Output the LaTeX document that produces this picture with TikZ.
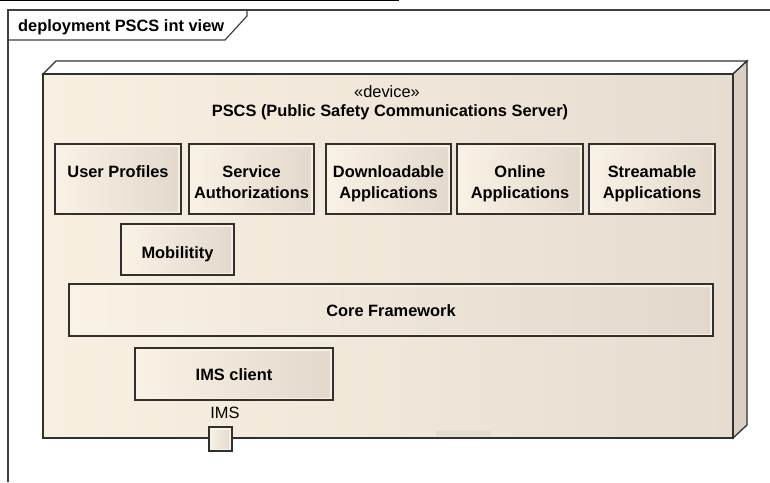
\documentclass[tikz,border=0pt]{standalone}
\usepackage{fontspec}
\setmainfont{Liberation Sans}
\definecolor{bord}{HTML}{303030}
\definecolor{frm}{HTML}{404040}
\definecolor{devL}{HTML}{FAF0E2}
\definecolor{devR}{HTML}{E6DDD0}
\definecolor{sideC}{HTML}{D9D0C3}
\definecolor{boxL}{HTML}{FBF2E6}
\definecolor{boxR}{HTML}{E2D9CC}
\definecolor{boxEdge}{HTML}{FAF1E5}
\definecolor{artif}{HTML}{E3DBCF}
\tikzset{
  comp/.style={draw=bord, line width=1.3pt, fill=boxEdge, inner sep=0pt, outer sep=0pt,
    anchor=north west,
    path picture={\shade[left color=boxL,right color=boxR]
      ([shift={(3pt,-3pt)}]path picture bounding box.north west) rectangle
      ([shift={(-3pt,3pt)}]path picture bounding box.south east);}},
  lbl/.style={font=\bfseries\fontsize{16.4}{21}\selectfont, align=center, inner sep=0pt, anchor=north},
  plain/.style={font=\fontsize{16.4}{21}\selectfont, inner sep=0pt, anchor=north},
}
\begin{document}
\begin{tikzpicture}[x=1pt,y=-1pt]
\useasboundingbox (0,0) rectangle (770,482);
% top artifact line
\draw[black, line width=1.5pt] (0,0.6) -- (399,0.6);
% frame
\draw[frm, line width=1.2pt] (8,482) -- (8,10) -- (770,10);
\draw[frm, line width=1.2pt] (8,40) -- (225,40) -- (247,16) -- (247,10);
\node[font=\bfseries\fontsize{16.4}{21}\selectfont, inner sep=0pt, anchor=north west] (title) at (18,19) {deployment PSCS int view};
% device node
\coordinate (ftl) at (43,74);
\coordinate (ftr) at (733,74);
\coordinate (fbr) at (733,438);
\coordinate (fbl) at (43,438);
\coordinate (btl) at (56,61);
\coordinate (btr) at (747,61);
\coordinate (bbr) at (747,425);
\draw[bord, line width=1.3pt, fill=white] (ftl) -- (btl) -- (btr) -- (ftr) -- cycle;
\draw[bord, line width=1.3pt, fill=sideC] (ftr) -- (btr) -- (bbr) -- (fbr) -- cycle;
\shade[left color=devL, right color=devR] (ftl) rectangle (fbr);
\fill[artif] (436,431) rectangle (491,436);
\draw[bord, line width=1.3pt] (ftl) rectangle (fbr);
\node[plain] (stereo) at (387,85) {«device»};
\node[lbl] (devname) at (390,104) {PSCS (Public Safety Communications Server)};
% components
\node[comp, minimum width=126pt, minimum height=70pt] (up) at (55,144) {};
\node[comp, minimum width=125pt, minimum height=70pt] (sa) at (189,144) {};
\node[comp, minimum width=125pt, minimum height=70pt] (da) at (326,144) {};
\node[comp, minimum width=126pt, minimum height=70pt] (oa) at (457,144) {};
\node[comp, minimum width=126pt, minimum height=70pt] (st) at (589,144) {};
\node[comp, minimum width=113pt, minimum height=51pt] (mob) at (121,224) {};
\node[comp, minimum width=644pt, minimum height=52pt] (core) at (69,284) {};
\node[comp, minimum width=198pt, minimum height=52pt] (ims) at (135,348) {};
\node[lbl] (upt) at (118,165) {User Profiles};
\node[lbl] (sat) at (251.5,165) {Service\\Authorizations};
\node[lbl] (dat) at (388.5,165) {Downloadable\\Applications};
\node[lbl] (oat) at (520,165) {Online\\Applications};
\node[lbl] (stt) at (652,165) {Streamable\\Applications};
\node[lbl] (mobt) at (177.5,246) {Mobilitity};
\node[lbl] (coret) at (391,304) {Core Framework};
\node[lbl] (imst) at (234,368) {IMS client};
% port
\node[comp, minimum width=23pt, minimum height=24pt] (port) at (209,427) {};
\node[plain] (portl) at (225,407) {IMS};
\end{tikzpicture}
\end{document}
